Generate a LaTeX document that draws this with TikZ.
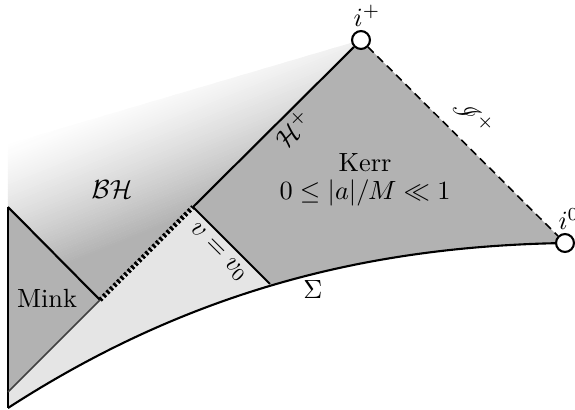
\documentclass[tikz,border=0pt]{standalone}
\usepackage{mathrsfs}
\begin{document}
\begin{tikzpicture}[x=0.38pt,y=0.38pt,
  ln/.style={line width=0.8pt},
  bnd/.style={circle,draw,fill=white,line width=0.8pt,minimum size=6.8pt,inner sep=0pt},
  lab/.style={inner sep=1pt},
  kerrfill/.style={fill=black!30},
  lightfill/.style={fill=black!10}]
\useasboundingbox (0,0) rectangle (575,410);
\coordinate (iplus) at (361,370);
\coordinate (izero) at (565,167);
\coordinate (hb) at (193,203);
\coordinate (hc) at (270,126);
\coordinate (mtop) at (8,203);
\coordinate (mr) at (100,110);
\coordinate (mbot) at (8,18);
\coordinate (sl) at (8,2);
\coordinate (c1) at (201,127);
\coordinate (c2) at (385,164);
\coordinate (bhtop) at (8,266);
% black hole region gradient
\begin{scope}
  \clip (mtop) -- (mr) -- (hb) -- (iplus) -- (bhtop) -- cycle;
  \begin{scope}[rotate=22]
    \fill[black!30] (-300,-400) rectangle (900,111);
    \foreach \i in {0,...,59}{
      \pgfmathsetmacro{\g}{30*((1-(\i+0.5)/60)^1.3)}
      \fill[black!\g] (-300,{110+\i*137/60}) rectangle (900,{110+(\i+1)*137/60+0.4});
    }
  \end{scope}
\end{scope}
% regions above Sigma
\begin{scope}
  \clip (sl) .. controls (c1) and (c2) .. (izero) -- (575,420) -- (0,420) -- (0,2) -- cycle;
  \fill[lightfill] (mbot) -- (mr) -- (hb) -- (496,-100) -- (8,-100) -- cycle;
  \fill[kerrfill] (hb) -- (iplus) -- (izero) -- (620,-100) -- (496,-100) -- cycle;
\end{scope}
\fill[kerrfill] (mtop) -- (mr) -- (mbot) -- cycle;
% lines
\draw[ln] (mtop) -- (sl);
\draw[ln] (mtop) -- (mr);
\draw[black!75, line width=0.6pt] (mr) -- (mbot);
\draw[line width=1.8pt, dash pattern=on 1pt off 0.9pt] (mr) -- (hb);
\draw[ln] (hb) -- (hc);
\draw[ln] (sl) .. controls (c1) and (c2) .. (izero);
\node[bnd] (nip) at (iplus) {};
\node[bnd] (ni0) at (izero) {};
\draw[ln] (hb) -- (nip);
\draw[line width=0.6pt, dash pattern=on 3pt off 2pt] (nip) -- (ni0);
% labels
\node[lab] (lip) at (367,394) {$i^+$};
\node[lab] (li0) at (569,191) {$i^0$};
\node[lab,rotate=-45] (lscri) at (474,293) {$\mathscr{I}^+$};
\node[lab] (lkerr) at (365,247) {Kerr};
\node[lab] (lspin) at (365,217) {$0\leq |a|/M \ll 1$};
\node[lab,rotate=45] (lhp) at (293,281) {$\mathcal{H}^+$};
\node[lab] (lbh) at (112,220) {$\mathcal{BH}$};
\node[lab] (lmink) at (47,112) {Mink};
\node[lab,rotate=-45] (lv) at (218,157) {$v=v_0$};
\node[lab] (lsig) at (313,120) {$\Sigma$};
\end{tikzpicture}
\end{document}
